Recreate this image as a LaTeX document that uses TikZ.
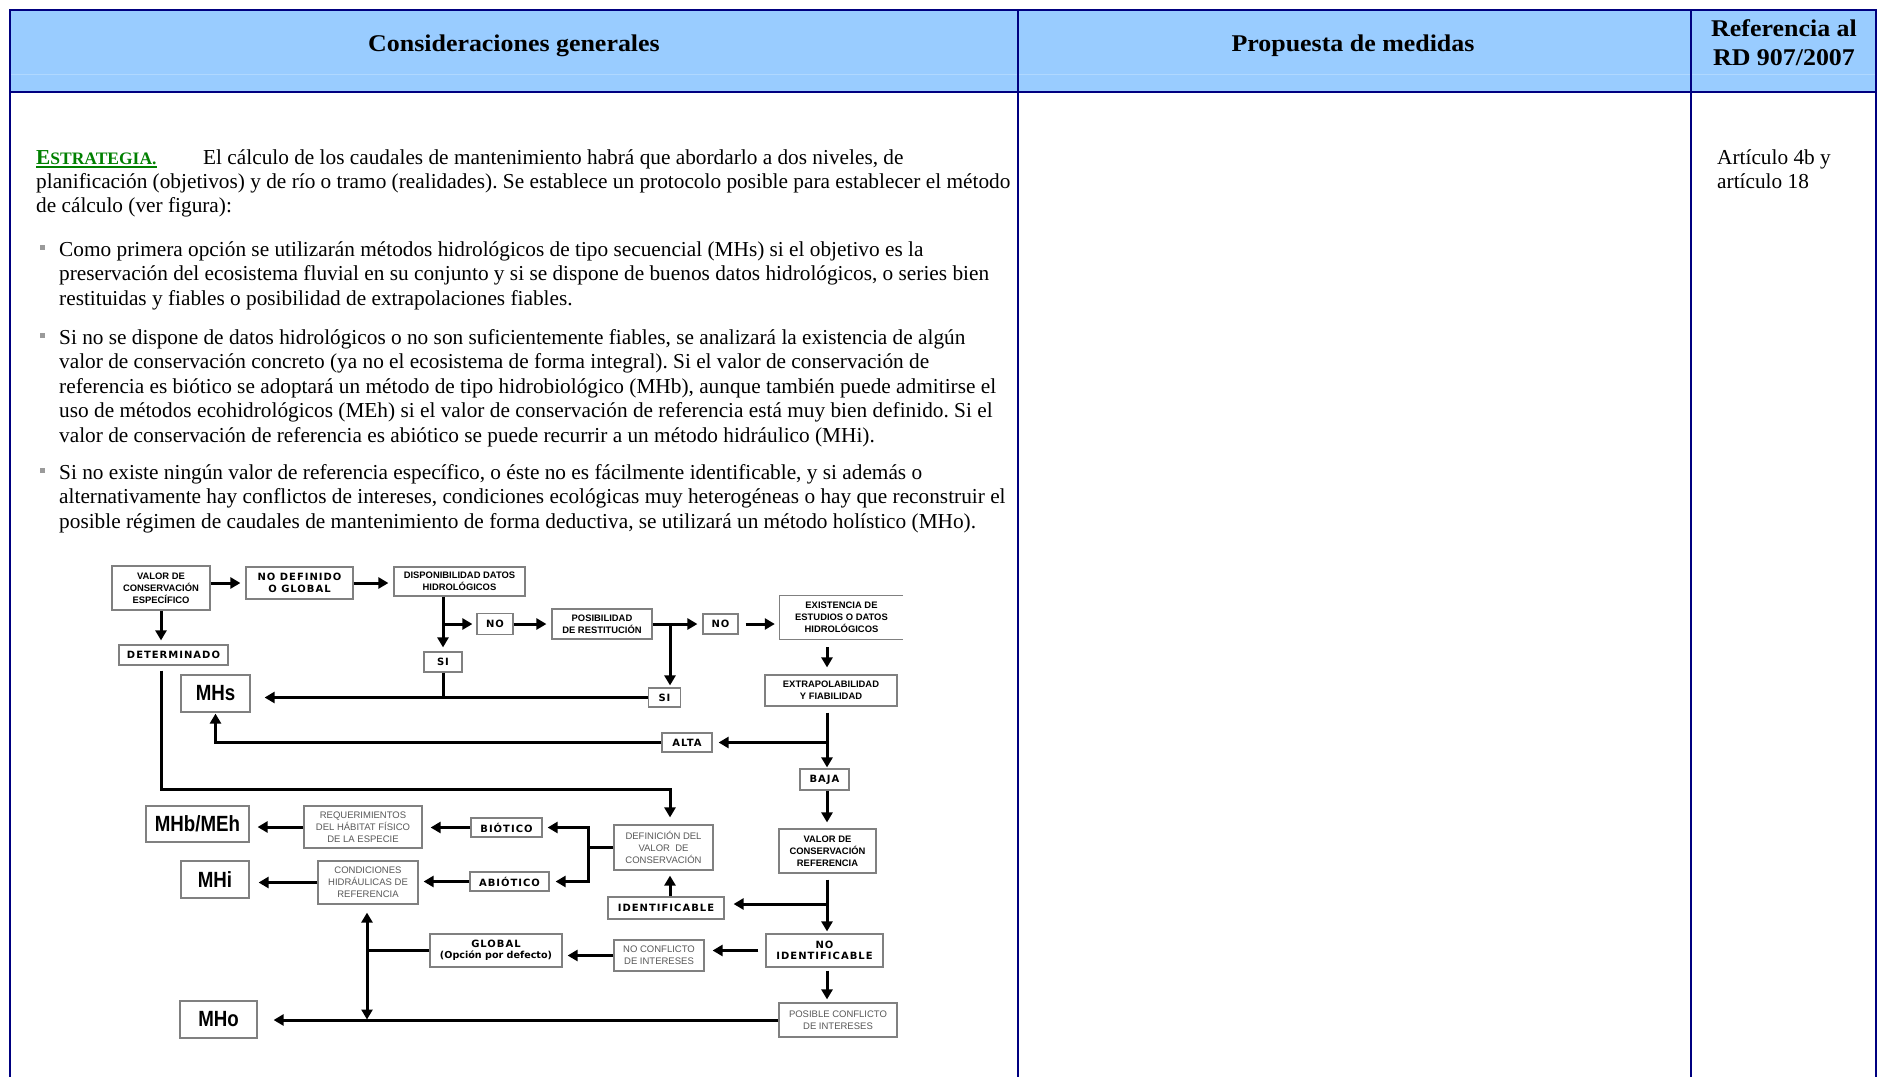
\documentclass[tikz,border=0pt]{standalone}
\usepackage{fontspec}
\setmainfont{Liberation Serif}
\newfontfamily\hdrf[FakeStretch=1.08]{Liberation Serif}
\newfontfamily\sansf{Liberation Sans}
\newfontfamily\comicf[LetterSpace=10]{DejaVu Sans}
\newfontfamily\comicn{DejaVu Sans}
\newfontfamily\bigf[FakeStretch=0.85]{Liberation Sans}
\usetikzlibrary{arrows.meta}
\definecolor{hdr}{HTML}{99CCFF}
\definecolor{hdrline}{HTML}{B0D8FF}
\definecolor{navyc}{HTML}{000080}
\definecolor{grn}{HTML}{008000}
\definecolor{boxgray}{HTML}{808080}
\definecolor{txtgray}{HTML}{585858}
\definecolor{bulgray}{HTML}{9A9A9A}
\begin{document}
\frenchspacing
\begin{tikzpicture}[x=1pt,y=-1pt,
  border/.style={draw=navyc,line width=2pt},
  hdrtxt/.style={inner sep=0pt,anchor=base,font=\hdrf\bfseries\fontsize{24}{28}\selectfont},
  bodytxt/.style={inner sep=0pt,anchor=base west,font=\fontsize{21.3}{24}\selectfont},
  bx/.style={draw=boxgray,line width=1.2pt,fill=white,inner sep=0pt,align=center},
  fa/.style={font=\sansf\bfseries\fontsize{9.4}{12}\selectfont},
  fc/.style={font=\comicf\bfseries\fontsize{10}{11.5}\selectfont},
  fg/.style={font=\sansf\fontsize{9.5}{12}\selectfont,text=txtgray},
  fb/.style={font=\bigf\bfseries\fontsize{22}{24}\selectfont},
  ln/.style={line width=3pt},
  arw/.style={line width=3pt,-{Triangle[length=10pt,width=11pt]},shorten >=5pt},
  dbl/.style={line width=3pt,{Triangle[length=10pt,width=11pt]}-{Triangle[length=10pt,width=11pt]}}
]
\useasboundingbox (0,0) rectangle (1878,1077);
% ---- table ----
\fill[hdr] (10,10) rectangle (1876,92);
\draw[hdrline,line width=0.8pt] (10,74) -- (1876,74);
\draw[border,line width=2.6pt] (9,10) -- (1877,10);
\draw[border,line width=2.6pt] (9,92) -- (1877,92);
\draw[border] (10,10) -- (10,1077);
\draw[border] (1018,10) -- (1018,1077);
\draw[border] (1691,10) -- (1691,1077);
\draw[border] (1876,10) -- (1876,1077);
\node[hdrtxt] (h1) at (514,51) {Consideraciones generales};
\node[hdrtxt] (h2) at (1353,51) {Propuesta de medidas};
\node[hdrtxt] (h3a) at (1784,36) {Referencia al};
\node[hdrtxt] (h3b) at (1784,65) {RD 907/2007};
% ---- text ----
\node[bodytxt,text=grn] (estr) at (36,164) {\bfseries E\fontsize{17.5}{24}\selectfont STRATEGIA.};
\draw[grn,line width=1.8pt] ([yshift=-3pt]estr.base west) -- ([yshift=-3pt]estr.base east);
\node[bodytxt] (t1) at (203,164) {El cálculo de los caudales de mantenimiento habrá que abordarlo a dos niveles, de};
\node[bodytxt] (t2) at (36,188) {planificación (objetivos) y de río o tramo (realidades). Se establece un protocolo posible para establecer el método};
\node[bodytxt] (t3) at (36,212) {de cálculo (ver figura):};
\fill[bulgray] (40,245) rectangle (45,250);
\node[bodytxt] (b1a) at (59,256) {Como primera opción se utilizarán métodos hidrológicos de tipo secuencial (MHs) si el objetivo es la};
\node[bodytxt] (b1b) at (59,280.5) {preservación del ecosistema fluvial en su conjunto y si se dispone de buenos datos hidrológicos, o series bien};
\node[bodytxt] (b1c) at (59,305) {restituidas y fiables o posibilidad de extrapolaciones fiables.};
\fill[bulgray] (40,333) rectangle (45,338);
\node[bodytxt] (b2a) at (59,344) {Si no se dispone de datos hidrológicos o no son suficientemente fiables, se analizará la existencia de algún};
\node[bodytxt] (b2b) at (59,368.5) {valor de conservación concreto (ya no el ecosistema de forma integral). Si el valor de conservación de};
\node[bodytxt] (b2c) at (59,393) {referencia es biótico se adoptará un método de tipo hidrobiológico (MHb), aunque también puede admitirse el};
\node[bodytxt] (b2d) at (59,417.5) {uso de métodos ecohidrológicos (MEh) si el valor de conservación de referencia está muy bien definido. Si el};
\node[bodytxt] (b2e) at (59,442) {valor de conservación de referencia es abiótico se puede recurrir a un método hidráulico (MHi).};
\fill[bulgray] (40,468) rectangle (45,473);
\node[bodytxt] (b3a) at (59,479) {Si no existe ningún valor de referencia específico, o éste no es fácilmente identificable, y si además o};
\node[bodytxt] (b3b) at (59,503.5) {alternativamente hay conflictos de intereses, condiciones ecológicas muy heterogéneas o hay que reconstruir el};
\node[bodytxt] (b3c) at (59,528) {posible régimen de caudales de mantenimiento de forma deductiva, se utilizará un método holístico (MHo).};
\node[bodytxt] (r1) at (1717,164) {Artículo 4b y};
\node[bodytxt] (r2) at (1717,188) {artículo 18};
% ---- flowchart nodes ----
\node[bx,fa,minimum width=98,minimum height=44] (vce) at (161,588) {VALOR DE\\CONSERVACIÓN\\ESPECÍFICO};
\node[bx,fc,minimum width=107,minimum height=32] (ndg) at (299.5,583) {NO DEFINIDO\\O GLOBAL};
\node[bx,fa,minimum width=131,minimum height=29] (ddh) at (459.5,581.5) {DISPONIBILIDAD DATOS\\HIDROLÓGICOS};
\node[bx,fc,minimum width=36,minimum height=21] (no1) at (495,624) {NO};
\node[bx,fc,minimum width=38,minimum height=20] (si1) at (443,662) {SI};
\node[bx,fa,minimum width=100,minimum height=30] (pdr) at (602,624) {POSIBILIDAD\\DE RESTITUCIÓN};
\node[bx,fc,minimum width=35,minimum height=20] (no2) at (720.5,624) {NO};
\node[bx,fc,minimum width=32,minimum height=19] (si2) at (664.5,697.5) {SI};
\node[fa,align=center,inner sep=0pt,minimum width=123,minimum height=43] (exi) at (841.5,617.5) {EXISTENCIA DE\\ESTUDIOS O DATOS\\HIDROLÓGICOS};
\draw[draw=boxgray,line width=1.2pt] (exi.north east) -- (exi.north west) -- (exi.south west) -- (exi.south east);
\node[bx,fa,minimum width=132,minimum height=31] (ext) at (831,690.5) {EXTRAPOLABILIDAD\\Y FIABILIDAD};
\node[bx,fb,minimum width=69,minimum height=37] (mhs) at (215.5,693.5) {MHs};
\node[bx,fc,minimum width=109,minimum height=20] (det) at (173.5,655) {DETERMINADO};
\node[bx,fc,minimum width=50,minimum height=19] (alta) at (687,742.5) {ALTA};
\node[bx,fc,minimum width=49,minimum height=21] (baja) at (824.5,779.5) {BAJA};
\node[bx,fa,minimum width=97,minimum height=44] (vcr) at (827.5,851) {VALOR DE\\CONSERVACIÓN\\REFERENCIA};
\node[bx,fg,minimum width=99,minimum height=45] (dvc) at (663.5,847.5) {DEFINICIÓN DEL\\VALOR\ \ DE\\CONSERVACIÓN};
\node[bx,fc,minimum width=116,minimum height=22] (ide) at (666,908) {IDENTIFICABLE};
\node[bx,fb,minimum width=103,minimum height=36] (mhb) at (197.5,824) {MHb/MEh};
\node[bx,fg,minimum width=118,minimum height=42] (req) at (363,827) {REQUERIMIENTOS\\DEL HÁBITAT FÍSICO\\DE LA ESPECIE};
\node[bx,fc,minimum width=71,minimum height=19] (bio) at (506.5,827.5) {BIÓTICO};
\node[bx,fb,minimum width=68,minimum height=37] (mhi) at (215,879.5) {MHi};
\node[bx,fg,minimum width=100,minimum height=43] (con) at (368,882.5) {CONDICIONES\\HIDRÁULICAS DE\\REFERENCIA};
\node[bx,fc,minimum width=79,minimum height=19] (abio) at (509.5,881.5) {ABIÓTICO};
\node[bx,fc,minimum width=132,minimum height=33] (glo) at (496,950.5) {GLOBAL\\{\comicn\bfseries\fontsize{9.6}{11.5}\selectfont(Opción por defecto)}};
\node[bx,fg,minimum width=90,minimum height=31] (ncf) at (659,955.5) {NO CONFLICTO\\DE INTERESES};
\node[bx,fc,minimum width=117,minimum height=33] (nid) at (824.5,950.5) {NO\\IDENTIFICABLE};
\node[bx,fg,minimum width=118,minimum height=34] (pcf) at (838,1020) {POSIBLE CONFLICTO\\DE INTERESES};
\node[bx,fb,minimum width=77,minimum height=37] (mho) at (218.5,1019.5) {MHo};
% ---- helper coordinates ----
\coordinate (tx) at (827,0);
\coordinate (dx) at (670,0);
\coordinate (ax2) at (670,0);
\coordinate (jx) at (588,0);
\coordinate (vx) at (367,0);
\coordinate (y789) at (0,789);
\coordinate (y904) at (0,904);
% ---- connectors ----
\draw[arw] (vce.east|-ndg.west) -- (ndg.west);
\draw[arw] (ndg.east) -- (ddh.west|-ndg.east);
\draw[arw,shorten >=4pt] (vce.south) -- (vce.south|-det.north);
\draw[arw,shorten <=5pt,shorten >=7pt] (vce.south|-det.south) -- (vce.south|-y789) -| (dvc.north-|dx);
\draw[arw,shorten >=4pt] (ddh.south-|si1) -- (si1.north);
\draw[arw,shorten >=4pt] (si1|-no1.west) -- (no1.west);
\draw[arw] (no1.east) -- (pdr.west|-no1.east);
\draw[ln] (si1.south) -- (si1|-si2.west);
\draw[arw,shorten >=14pt] (si2.west) -- (mhs.east|-si2.west);
\draw[arw] (pdr.east) -- (no2.west|-pdr.east);
\draw[arw,shorten >=2pt] (pdr.east-|ax2) -- (si2.north-|ax2);
\draw[arw,shorten <=7pt] (no2.east) -- (exi.west|-no2.east);
\draw[arw,shorten <=8pt,shorten >=7pt] (exi.south-|tx) -- (ext.north-|tx);
\draw[arw,shorten <=6pt,shorten >=1pt] (ext.south-|tx) -- (baja.north-|tx);
\draw[arw,shorten >=6pt] (tx|-alta.east) -- (alta.east);
\draw[arw,shorten >=1pt] (alta.west) -| (mhs.south);
\draw[arw,shorten >=6pt] (baja.south-|tx) -- (vcr.north-|tx);
\draw[arw,shorten <=6pt,shorten >=2pt] (vcr.south-|tx) -- (nid.north-|tx);
\draw[arw,shorten >=9pt] (tx|-y904) -- (ide.east|-y904);
\draw[arw,shorten >=5pt] (ide.north-|dx) -- (dvc.south-|dx);
\draw[ln] (dvc.west) -- (dvc.west-|jx);
\draw[arw] (dvc.west-|jx) |- (bio.east);
\draw[arw,shorten >=6pt] (dvc.west-|jx) |- (abio.east);
\draw[arw,shorten >=8pt] (bio.west) -- (req.east|-bio.west);
\draw[arw,shorten >=8pt] (req.west) -- (mhb.east|-req.west);
\draw[arw] (abio.west) -- (con.east|-abio.west);
\draw[arw,shorten >=9pt] (con.west) -- (mhi.east|-con.west);
\draw[arw,shorten <=7pt,shorten >=8pt] (nid.west) -- (ncf.east|-nid.west);
\draw[arw] (ncf.west) -- (glo.east|-ncf.west);
\draw[ln] (glo.west) -- (glo.west-|vx);
\draw[dbl,shorten >=8pt] (vx|-mho.east) -- (con.south-|vx);
\draw[arw,shorten >=16pt] (pcf.west) -- (mho.east|-pcf.west);
\draw[arw,shorten <=3pt,shorten >=3pt] (nid.south-|tx) -- (pcf.north-|tx);
\end{tikzpicture}
\end{document}
